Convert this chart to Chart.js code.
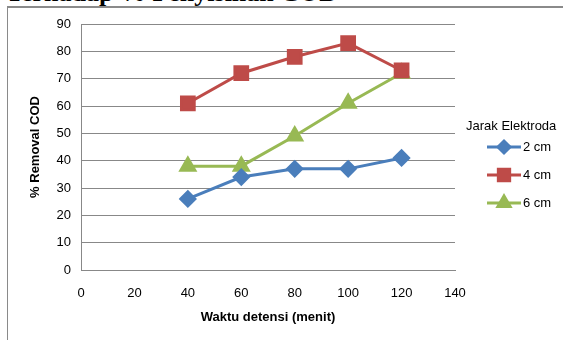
<!DOCTYPE html>
<html>
<head>
<meta charset="utf-8">
<script src="https://cdn.jsdelivr.net/npm/chart.js@4.4.0/dist/chart.umd.min.js"></script>
<style>
    body { margin: 0; background: #fff; }
    #wrap { position: relative; width: 563px; height: 340px; overflow: hidden; }
    #frame { position: absolute; left: 7px; top: 6px; right: -5px; bottom: -5px; border-left: 1px solid #8a8a8a; border-top: 2px solid #8a8a8a; }
    #judul { position: absolute; left: 6px; top: -20px; font: bold 26px/26px "Liberation Serif", serif; color: #000; white-space: nowrap; }
    canvas { position: absolute; left: 0; top: 0; }
</style>
</head>
<body>
<div id="wrap">
    <div id="judul">Terhadap % Penyisihan COD</div>
    <div id="frame"></div>
    <canvas id="myChart" width="563" height="340"></canvas>
</div>
<script>
// waktu detensi (menit)
let waktu = [40, 60, 80, 100, 120]
// % removal COD per jarak elektroda
let jarak2 = [26, 34, 37, 37, 41]
let jarak4 = [61, 72, 78, 83, 73]
let jarak6 = [38, 38, 49, 61, 72]
let namaSeri = ["2 cm", "4 cm", "6 cm"]

function titik(ys) {
    return waktu.map((x, i) => ({ x: x, y: ys[i] }))
}

const abu = '#888888'

// legenda gaya Excel: garis + marker
const legendaExcel = {
    id: 'legendaExcel',
    afterDraw(chart) {
        const ctx = chart.ctx
        ctx.save()
        ctx.font = '13px "Liberation Sans", sans-serif'
        ctx.fillStyle = '#000'
        ctx.textBaseline = 'middle'
        ctx.fillText('Jarak Elektroda', 466, 126)
        chart.data.datasets.forEach((ds, i) => {
            const y = 147 + i * 28
            ctx.strokeStyle = ds.borderColor
            ctx.lineWidth = 3
            ctx.beginPath()
            ctx.moveTo(487, y)
            ctx.lineTo(521, y)
            ctx.stroke()
            Chart.helpers.drawPoint(ctx, {
                pointStyle: ds.pointStyle,
                radius: ds.pointRadius - 1,
                borderWidth: 1
            }, 504, y)
            ctx.fillStyle = ds.backgroundColor
            ctx.fill()
            ctx.fillStyle = '#000'
            ctx.fillText(ds.label, 523, y)
        })
        ctx.restore()
    }
}

const data = {
    datasets: [{
        label: namaSeri[0],
        data: titik(jarak2),
        borderColor: '#4A7EBB',
        backgroundColor: '#4A7EBB',
        pointStyle: 'rectRot',
        pointRadius: 7,
        borderWidth: 3
    }, {
        label: namaSeri[1],
        data: titik(jarak4),
        borderColor: '#BE4B48',
        backgroundColor: '#BE4B48',
        pointStyle: 'rect',
        pointRadius: 9,
        borderWidth: 3
    }, {
        label: namaSeri[2],
        data: titik(jarak6),
        borderColor: '#98B954',
        backgroundColor: '#98B954',
        pointStyle: 'triangle',
        pointRadius: 8,
        borderWidth: 3
    }]
}

const config = {
    type: 'scatter',
    data: data,
    options: {
        responsive: false,
        animation: false,
        showLine: true,
        elements: { point: { borderWidth: 1 } },
        layout: { padding: { top: 24, right: 108, bottom: 0, left: 0 } },
        plugins: { legend: { display: false }, tooltip: { enabled: false } },
        scales: {
            x: {
                min: 0, max: 140,
                ticks: { stepSize: 20, color: '#000', padding: 16, font: { size: 13, family: '"Liberation Sans", sans-serif' } },
                grid: { display: false, drawTicks: false },
                border: { color: abu, width: 1 },
                title: { display: true, text: 'Waktu detensi (menit)', color: '#000', padding: { top: 6, bottom: 15 }, font: { size: 13, weight: 'bold', family: '"Liberation Sans", sans-serif' } },
                afterFit: s => { s.height = 70 }
            },
            y: {
                min: 0, max: 90,
                ticks: { stepSize: 10, color: '#000', padding: 10, font: { size: 13, family: '"Liberation Sans", sans-serif' } },
                grid: { color: abu, drawTicks: false },
                border: { color: abu, width: 1 },
                title: { display: true, text: '% Removal COD', color: '#000', padding: { top: 28 }, font: { size: 13, weight: 'bold', family: '"Liberation Sans", sans-serif' } },
                afterFit: s => { s.width = 81 }
            }
        }
    },
    plugins: [legendaExcel]
}

myChart = new Chart(document.getElementById('myChart'), config)
</script>
</body>
</html>
